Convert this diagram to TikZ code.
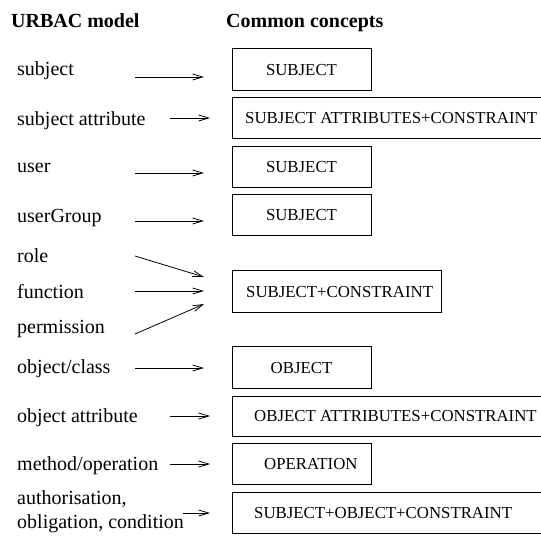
\documentclass[tikz,border=0pt]{standalone}
\usepackage{fontspec}
\setmainfont{Liberation Serif}
\usetikzlibrary{arrows.meta}
\begin{document}
\begin{tikzpicture}[x=1pt,y=-1pt,
  title/.style={font=\fontsize{20}{24}\selectfont\bfseries, anchor=base west, inner sep=0},
  lbl/.style={font=\fontsize{20}{24}\selectfont, anchor=base west, inner sep=0, align=left},
  box/.style={draw, line width=0.8pt, inner sep=0, anchor=north west},
  boxtext/.style={font=\fontsize{16.8}{20}\selectfont, inner sep=0},
  arr/.style={line width=0.8pt, -{Straight Barb[length=10pt,width=6pt]}}]
\useasboundingbox (0,0) rectangle (541,536);
\clip (0,0) rectangle (541,536);
% titles
\node[title] (h1) at (11,27) {URBAC model};
\node[title] (h2) at (226,27) {Common concepts};
% labels
\node[lbl] (l1) at (17,75) {subject};
\node[lbl] (l2) at (17,125) {subject attribute};
\node[lbl] (l3) at (17,172) {user};
\node[lbl] (l4) at (17,222) {userGroup};
\node[lbl] (l5) at (17,262) {role};
\node[lbl] (l6) at (17,298) {function};
\node[lbl] (l7) at (17,333) {permission};
\node[lbl] (l8) at (17,373) {object/class};
\node[lbl] (l9) at (17,422) {object attribute};
\node[lbl] (l10) at (17,470) {method/operation};
\node[lbl] (l11) at (17,504) {authorisation,};
\node[lbl] (l12) at (17,528) {obligation, condition};
% boxes
\node[box, minimum width=139pt, minimum height=42pt] (b1) at (232,48) {};
\node[box, minimum width=330pt, minimum height=41pt] (b2) at (232,97) {};
\node[box, minimum width=139pt, minimum height=41pt] (b3) at (232,146) {};
\node[box, minimum width=139pt, minimum height=41pt] (b4) at (232,194) {};
\node[box, minimum width=209pt, minimum height=42pt] (b5) at (232,270) {};
\node[box, minimum width=139pt, minimum height=42pt] (b6) at (232,346) {};
\node[box, minimum width=330pt, minimum height=40pt] (b7) at (232,396) {};
\node[box, minimum width=139pt, minimum height=41pt] (b8) at (232,443) {};
\node[box, minimum width=330pt, minimum height=41pt] (b9) at (232,492) {};
% box texts
\node[boxtext, anchor=base] (t1) at (301.5,75) {SUBJECT};
\node[boxtext, anchor=base west] (t2) at (245,123.5) {SUBJECT ATTRIBUTES+CONSTRAINT};
\node[boxtext, anchor=base] (t3) at (301.5,172.5) {SUBJECT};
\node[boxtext, anchor=base] (t4) at (301.5,220.5) {SUBJECT};
\node[boxtext, anchor=base west] (t5) at (246,297) {SUBJECT+CONSTRAINT};
\node[boxtext, anchor=base] (t6) at (301.5,373) {OBJECT};
\node[boxtext, anchor=base west] (t7) at (254,421.5) {OBJECT ATTRIBUTES+CONSTRAINT};
\node[boxtext, anchor=base west] (t8) at (264,469.5) {OPERATION};
\node[boxtext, anchor=base west] (t9) at (254,518.5) {SUBJECT+OBJECT+CONSTRAINT};
% arrow end points
\coordinate (a1s) at (135,77);  \coordinate (a1e) at (204,77);
\coordinate (a2s) at (170,118); \coordinate (a2e) at (210,118);
\coordinate (a3s) at (135,173); \coordinate (a3e) at (204,173);
\coordinate (a4s) at (135,221); \coordinate (a4e) at (204,221);
\coordinate (a5s) at (135,256); \coordinate (a5e) at (204,277);
\coordinate (a6s) at (135,291); \coordinate (a6e) at (204,291);
\coordinate (a7s) at (135,334); \coordinate (a7e) at (204,304);
\coordinate (a8s) at (135,368); \coordinate (a8e) at (204,368);
\coordinate (a9s) at (170,416); \coordinate (a9e) at (210,416);
\coordinate (a10s) at (170,464); \coordinate (a10e) at (210,464);
\coordinate (a11s) at (183,513); \coordinate (a11e) at (210,513);
\foreach \i in {1,...,11} {\draw[arr] (a\i s) -- (a\i e);}
\end{tikzpicture}
\end{document}
